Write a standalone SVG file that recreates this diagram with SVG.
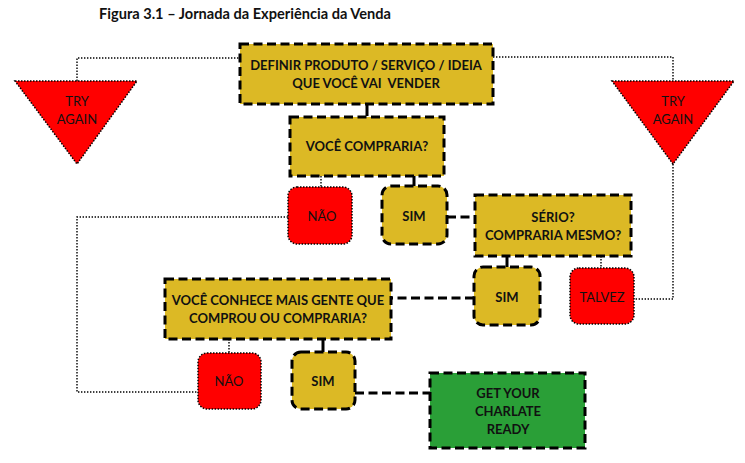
<svg xmlns="http://www.w3.org/2000/svg" width="745" height="463" viewBox="0 0 745 463">
<style>
text{font-family:Lato,"Liberation Sans",sans-serif;font-weight:bold;font-size:13px;fill:#111;text-anchor:middle}
.title{font-size:14.6px;text-anchor:start}
.reg{font-weight:normal}
.gold{fill:#DCB925;stroke:#000;stroke-width:3;stroke-dasharray:9 4.5}
.green{fill:#2A9F37;stroke:#000;stroke-width:3;stroke-dasharray:9 4.5}
.red{fill:#FF0000;stroke:#000;stroke-width:1.5;stroke-dasharray:1.5 1.5}
.solid{fill:none;stroke:#000;stroke-width:3}
.dash{fill:none;stroke:#000;stroke-width:3;stroke-dasharray:9 4.5}
.dot{fill:none;stroke:#000;stroke-width:1.4;stroke-dasharray:1.4 1.6}
</style>
<rect width="745" height="463" fill="#fff"/>
<text class="title" x="99" y="19">Figura 3.1 – Jornada da Experiência da Venda</text>
<g id="connectors">
<path class="dot" d="M77,81 V58 H240"/>
<path class="dot" d="M493,57 H673 V81"/>
<path class="dot" d="M673,164 V299 H634"/>
<path class="solid" d="M367,104 V116"/>
<path class="dot" d="M321,176 V187"/>
<path class="solid" d="M414,176 V186"/>
<path class="dot" d="M288,217 H77 V392 H198"/>
<path class="dash" d="M447,217 H475"/>
<path class="solid" d="M507,256 V267"/>
<path class="dot" d="M601,256 V268"/>
<path class="dash" d="M474,298 H391"/>
<path class="dot" d="M229,339 V353"/>
<path class="solid" d="M323,339 V352"/>
<path class="dash" d="M355,393 H430"/>
</g>
<g id="definir">
<rect class="gold" x="240" y="44" width="253" height="60"/>
<text x="366" y="70">DEFINIR PRODUTO / SERVIÇO / IDEIA</text>
<text x="366" y="88" style="white-space:pre">QUE VOCÊ VAI  VENDER</text>
</g>
<g id="tryagain-left">
<polygon class="red" points="15,81 137,81 77,164"/>
<text class="reg" x="77" y="106">TRY</text>
<text class="reg" x="77" y="124">AGAIN</text>
</g>
<g id="tryagain-right">
<polygon class="red" points="612,81 734,81 673,164"/>
<text class="reg" x="673" y="106">TRY</text>
<text class="reg" x="673" y="124">AGAIN</text>
</g>
<g id="compraria">
<rect class="gold" x="290" y="117" width="154" height="59"/>
<text x="367" y="151">VOCÊ COMPRARIA?</text>
</g>
<g id="nao1">
<rect class="red" x="288" y="187" width="64" height="57" rx="9"/>
<text class="reg" x="322" y="221">NÃO</text>
</g>
<g id="sim1">
<rect class="gold" x="382" y="186" width="65" height="58" rx="9"/>
<text x="414" y="221">SIM</text>
</g>
<g id="serio">
<rect class="gold" x="475" y="195" width="156" height="61"/>
<text x="553" y="222">SÉRIO?</text>
<text x="553" y="240">COMPRARIA MESMO?</text>
</g>
<g id="sim2">
<rect class="gold" x="474" y="267" width="66" height="58" rx="9"/>
<text x="507" y="302">SIM</text>
</g>
<g id="talvez">
<rect class="red" x="570" y="268" width="64" height="56" rx="9"/>
<text class="reg" x="602" y="302">TALVEZ</text>
</g>
<g id="conhece">
<rect class="gold" x="165" y="279" width="226" height="60"/>
<text x="278" y="305">VOCÊ CONHECE MAIS GENTE QUE</text>
<text x="278" y="323">COMPROU OU COMPRARIA?</text>
</g>
<g id="nao2">
<rect class="red" x="198" y="353" width="63" height="56" rx="9"/>
<text class="reg" x="229" y="386">NÃO</text>
</g>
<g id="sim3">
<rect class="gold" x="292" y="352" width="63" height="57" rx="9"/>
<text x="323" y="386">SIM</text>
</g>
<g id="charlate">
<rect class="green" x="430" y="373" width="155" height="75"/>
<text x="508" y="398">GET YOUR</text>
<text x="508" y="416">CHARLATE</text>
<text x="508" y="434">READY</text>
</g>
</svg>
